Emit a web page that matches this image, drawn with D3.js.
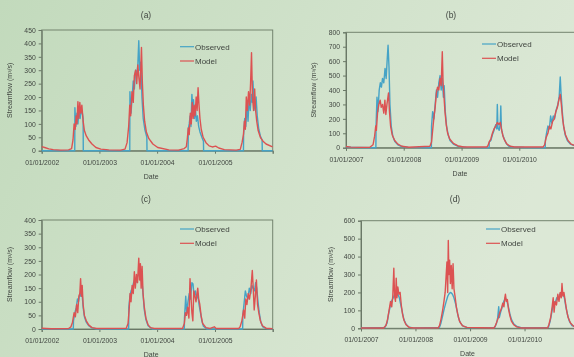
<!DOCTYPE html>
<html>
<head>
<meta charset="utf-8">
<script src="https://cdn.jsdelivr.net/npm/d3@7"></script>
<style>
  html, body { margin: 0; padding: 0; }
  body { width: 574px; height: 357px; overflow: hidden; }
  svg { display: block; filter: blur(0.35px); }
  text { font-family: "Liberation Sans", Arial, sans-serif; fill: #3f443f; }
</style>
</head>
<body>
<svg id="chart" width="574" height="357"></svg>
<script>
// ---- data ----
const seriesNames = ['Observed', 'Model'];
const yTicksA = [0, 50, 100, 150, 200, 250, 300, 350, 400, 450];
const yTicksB = [0, 100, 200, 300, 400, 500, 600, 700, 800];
const yTicksC = [0, 50, 100, 150, 200, 250, 300, 350, 400];
const yTicksD = [0, 100, 200, 300, 400, 500, 600];
const yearsAC = [2002, 2003, 2004, 2005, 2006];
const yearsBD = [2007, 2008, 2009, 2010, 2011];

// (a)
const obsA = [
  ['2002-01-01', 0], ['2002-07-29', 0], ['2002-07-30', 160], ['2002-08-05', 90], ['2002-08-12', 140],
  ['2002-08-18', 100], ['2002-08-25', 150], ['2002-09-01', 120], ['2002-09-08', 150], ['2002-09-15', 140],
  ['2002-09-20', 120], ['2002-09-21', 0],
  ['2003-07-12', 0], ['2003-07-13', 220], ['2003-07-20', 140], ['2003-07-27', 200], ['2003-08-03', 260],
  ['2003-08-10', 230], ['2003-08-18', 300], ['2003-08-25', 280], ['2003-09-01', 320], ['2003-09-07', 410],
  ['2003-09-13', 300], ['2003-09-20', 330], ['2003-09-27', 200], ['2003-10-05', 120], ['2003-10-15', 80],
  ['2003-10-28', 50], ['2003-10-29', 0],
  ['2004-07-15', 0], ['2004-07-16', 80], ['2004-07-22', 100], ['2004-07-28', 130], ['2004-08-02', 90],
  ['2004-08-08', 210], ['2004-08-13', 160], ['2004-08-18', 190], ['2004-08-24', 120], ['2004-08-30', 160],
  ['2004-09-05', 110], ['2004-09-12', 130], ['2004-09-20', 90], ['2004-09-28', 70], ['2004-10-10', 50],
  ['2004-10-20', 35], ['2004-10-21', 0],
  ['2005-06-30', 0], ['2005-07-01', 60], ['2005-07-08', 120], ['2005-07-15', 90], ['2005-07-22', 170],
  ['2005-07-29', 110], ['2005-08-05', 200], ['2005-08-12', 150], ['2005-08-19', 210], ['2005-08-25', 180],
  ['2005-08-29', 260], ['2005-09-05', 170], ['2005-09-12', 150], ['2005-09-18', 200], ['2005-09-25', 130],
  ['2005-10-05', 80], ['2005-10-15', 55], ['2005-10-26', 40], ['2005-10-27', 0], ['2005-12-31', 0]
];
const modA = [
  ['2002-01-01', 15], ['2002-01-20', 12], ['2002-02-15', 7], ['2002-03-15', 4], ['2002-05-01', 2],
  ['2002-06-20', 3], ['2002-07-09', 8], ['2002-07-18', 40], ['2002-07-25', 100], ['2002-08-01', 80],
  ['2002-08-07', 130], ['2002-08-12', 100], ['2002-08-18', 183], ['2002-08-24', 120], ['2002-08-30', 180],
  ['2002-09-05', 140], ['2002-09-12', 170], ['2002-09-20', 110], ['2002-09-28', 75], ['2002-10-10', 55],
  ['2002-10-25', 40], ['2002-11-15', 25], ['2002-12-10', 12], ['2003-01-10', 6], ['2003-03-01', 3],
  ['2003-05-15', 2], ['2003-06-12', 6], ['2003-06-25', 30], ['2003-07-05', 90], ['2003-07-12', 170],
  ['2003-07-18', 130], ['2003-07-26', 220], ['2003-08-03', 180], ['2003-08-10', 280], ['2003-08-18', 300],
  ['2003-08-25', 250], ['2003-09-01', 320], ['2003-09-08', 270], ['2003-09-15', 230], ['2003-09-24', 385],
  ['2003-09-30', 250], ['2003-10-06', 170], ['2003-10-14', 110], ['2003-10-25', 70], ['2003-11-10', 45],
  ['2003-12-05', 25], ['2004-01-05', 12], ['2004-03-15', 3], ['2004-05-15', 2], ['2004-06-20', 8],
  ['2004-07-04', 15], ['2004-07-10', 45], ['2004-07-16', 85], ['2004-07-22', 60], ['2004-07-29', 140],
  ['2004-08-04', 100], ['2004-08-10', 180], ['2004-08-16', 120], ['2004-08-22', 170], ['2004-08-28', 130],
  ['2004-09-04', 200], ['2004-09-10', 150], ['2004-09-16', 235], ['2004-09-22', 170], ['2004-09-28', 120],
  ['2004-10-06', 80], ['2004-10-18', 50], ['2004-11-05', 30], ['2004-11-25', 18], ['2004-12-15', 14],
  ['2005-01-05', 17], ['2005-01-25', 10], ['2005-03-01', 4], ['2005-05-15', 2], ['2005-06-10', 5],
  ['2005-06-21', 30], ['2005-06-30', 60], ['2005-07-06', 110], ['2005-07-12', 80], ['2005-07-18', 200],
  ['2005-07-25', 150], ['2005-08-01', 220], ['2005-08-08', 170], ['2005-08-14', 250], ['2005-08-20', 365],
  ['2005-08-26', 200], ['2005-09-02', 150], ['2005-09-09', 230], ['2005-09-15', 150], ['2005-09-22', 110],
  ['2005-10-01', 75], ['2005-10-15', 50], ['2005-11-01', 35], ['2005-11-20', 25], ['2005-12-31', 14]
];

// (b)
const obsB = [
  ['2007-01-01', 6], ['2007-02-01', 3], ['2007-04-01', 1], ['2007-07-09', 0], ['2007-07-10', 150],
  ['2007-07-16', 350], ['2007-07-22', 250], ['2007-07-30', 400], ['2007-08-06', 450], ['2007-08-13', 420],
  ['2007-08-20', 480], ['2007-08-28', 450], ['2007-09-05', 550], ['2007-09-12', 480], ['2007-09-18', 600],
  ['2007-09-24', 710], ['2007-09-30', 560], ['2007-10-06', 300], ['2007-10-14', 150], ['2007-10-24', 80],
  ['2007-11-05', 45], ['2007-11-25', 20], ['2007-12-20', 8], ['2008-02-01', 2], ['2008-06-24', 0],
  ['2008-06-25', 150], ['2008-07-02', 250], ['2008-07-10', 200], ['2008-07-18', 300], ['2008-07-26', 400],
  ['2008-08-02', 350], ['2008-08-10', 450], ['2008-08-18', 500], ['2008-08-25', 400], ['2008-09-01', 480],
  ['2008-09-08', 350], ['2008-09-13', 430], ['2008-09-20', 250], ['2008-09-28', 150], ['2008-10-08', 90],
  ['2008-10-20', 50], ['2008-11-10', 25], ['2008-12-10', 10], ['2009-02-01', 2], ['2009-06-24', 0],
  ['2009-06-25', 40], ['2009-07-05', 50], ['2009-07-15', 90], ['2009-07-25', 120], ['2009-08-05', 160],
  ['2009-08-12', 130], ['2009-08-15', 300], ['2009-08-19', 140], ['2009-08-27', 120], ['2009-09-03', 170],
  ['2009-09-06', 290], ['2009-09-10', 130], ['2009-09-18', 90], ['2009-09-28', 60], ['2009-10-10', 30],
  ['2009-10-25', 12], ['2009-11-15', 5], ['2010-02-01', 1], ['2010-06-14', 0], ['2010-06-15', 50],
  ['2010-06-22', 100], ['2010-07-01', 150], ['2010-07-10', 130], ['2010-07-18', 220], ['2010-07-26', 170],
  ['2010-08-04', 220], ['2010-08-12', 200], ['2010-08-22', 260], ['2010-09-02', 300], ['2010-09-10', 350],
  ['2010-09-17', 490], ['2010-09-22', 380], ['2010-09-30', 250], ['2010-10-08', 150], ['2010-10-18', 90],
  ['2010-11-01', 50], ['2010-11-20', 25], ['2010-12-31', 8]
];
const modB = [
  ['2007-01-01', 8], ['2007-02-01', 4], ['2007-04-01', 2], ['2007-06-01', 3], ['2007-06-21', 20],
  ['2007-07-01', 80], ['2007-07-08', 150], ['2007-07-12', 120], ['2007-07-20', 250], ['2007-07-28', 300],
  ['2007-08-05', 330], ['2007-08-12', 280], ['2007-08-20', 300], ['2007-08-28', 240], ['2007-09-04', 330],
  ['2007-09-10', 230], ['2007-09-17', 300], ['2007-09-27', 380], ['2007-10-03', 250], ['2007-10-10', 150],
  ['2007-10-20', 90], ['2007-11-05', 50], ['2007-11-25', 25], ['2007-12-20', 10], ['2008-02-01', 3],
  ['2008-06-15', 10], ['2008-06-25', 40], ['2008-07-02', 120], ['2008-07-10', 210], ['2008-07-18', 280],
  ['2008-07-26', 380], ['2008-08-02', 420], ['2008-08-10', 400], ['2008-08-18', 480], ['2008-08-25', 430],
  ['2008-09-01', 665], ['2008-09-06', 450], ['2008-09-12', 350], ['2008-09-18', 250], ['2008-09-26', 160],
  ['2008-10-05', 100], ['2008-10-18', 60], ['2008-11-10', 30], ['2008-12-10', 12], ['2009-01-15', 5],
  ['2009-06-10', 5], ['2009-06-17', 15], ['2009-06-25', 40], ['2009-07-05', 60], ['2009-07-15', 100],
  ['2009-07-25', 130], ['2009-08-05', 150], ['2009-08-15', 175], ['2009-08-25', 160], ['2009-09-03', 175],
  ['2009-09-12', 120], ['2009-09-20', 80], ['2009-10-01', 50], ['2009-10-15', 25], ['2009-11-05', 10],
  ['2009-12-01', 5], ['2010-06-01', 5], ['2010-06-10', 20], ['2010-06-20', 70], ['2010-07-01', 100],
  ['2010-07-10', 150], ['2010-07-20', 130], ['2010-07-30', 180], ['2010-08-10', 200], ['2010-08-20', 250],
  ['2010-08-30', 280], ['2010-09-08', 330], ['2010-09-17', 370], ['2010-09-24', 300], ['2010-10-02', 200],
  ['2010-10-10', 140], ['2010-10-20', 90], ['2010-11-05', 50], ['2010-11-25', 25], ['2010-12-31', 10]
];

// (c)
const obsC = [
  ['2002-01-01', 0], ['2002-07-20', 0], ['2002-07-21', 30], ['2002-07-30', 60], ['2002-08-08', 80],
  ['2002-08-15', 110], ['2002-08-22', 100], ['2002-08-30', 130], ['2002-09-06', 120], ['2002-09-12', 140],
  ['2002-09-20', 80], ['2002-09-28', 45], ['2002-10-10', 25], ['2002-10-25', 12], ['2002-11-15', 4],
  ['2002-12-15', 0], ['2003-07-05', 0], ['2003-07-06', 80], ['2003-07-13', 120], ['2003-07-20', 140],
  ['2003-07-28', 150], ['2003-08-05', 170], ['2003-08-12', 180], ['2003-08-20', 170], ['2003-08-28', 190],
  ['2003-09-05', 200], ['2003-09-12', 210], ['2003-09-20', 180], ['2003-09-28', 170], ['2003-10-05', 120],
  ['2003-10-12', 70], ['2003-10-22', 35], ['2003-11-05', 12], ['2003-12-01', 0], ['2004-06-21', 0],
  ['2004-06-22', 40], ['2004-06-30', 120], ['2004-07-06', 60], ['2004-07-14', 100], ['2004-07-22', 130],
  ['2004-07-30', 110], ['2004-08-08', 170], ['2004-08-15', 165], ['2004-08-22', 120], ['2004-08-30', 140],
  ['2004-09-06', 110], ['2004-09-14', 130], ['2004-09-22', 90], ['2004-10-01', 60], ['2004-10-10', 30],
  ['2004-10-20', 10], ['2004-11-10', 0], ['2005-06-25', 0], ['2005-06-26', 50], ['2005-07-05', 100],
  ['2005-07-12', 140], ['2005-07-20', 120], ['2005-07-28', 110], ['2005-08-06', 150], ['2005-08-15', 130],
  ['2005-08-22', 160], ['2005-08-30', 150], ['2005-09-08', 140], ['2005-09-15', 170], ['2005-09-22', 150],
  ['2005-09-30', 100], ['2005-10-08', 60], ['2005-10-18', 25], ['2005-10-30', 8], ['2005-11-20', 2],
  ['2005-12-31', 0]
];
const modC = [
  ['2002-01-01', 3], ['2002-03-01', 1], ['2002-06-20', 2], ['2002-07-05', 8], ['2002-07-15', 25],
  ['2002-07-25', 60], ['2002-08-02', 45], ['2002-08-10', 90], ['2002-08-17', 60], ['2002-08-24', 120],
  ['2002-08-30', 130], ['2002-09-04', 185], ['2002-09-09', 120], ['2002-09-14', 160], ['2002-09-20', 90],
  ['2002-09-28', 50], ['2002-10-10', 30], ['2002-10-25', 15], ['2002-11-15', 5], ['2002-12-15', 2],
  ['2003-06-20', 3], ['2003-07-01', 20], ['2003-07-08', 70], ['2003-07-14', 130], ['2003-07-20', 100],
  ['2003-07-27', 160], ['2003-08-03', 130], ['2003-08-10', 210], ['2003-08-16', 150], ['2003-08-23', 200],
  ['2003-08-30', 170], ['2003-09-07', 260], ['2003-09-12', 180], ['2003-09-17', 240], ['2003-09-22', 150],
  ['2003-09-28', 230], ['2003-10-04', 130], ['2003-10-12', 80], ['2003-10-22', 40], ['2003-11-05', 15],
  ['2003-11-20', 5], ['2003-12-15', 2], ['2004-06-10', 2], ['2004-06-21', 20], ['2004-06-28', 60],
  ['2004-07-05', 50], ['2004-07-12', 80], ['2004-07-20', 40], ['2004-07-27', 185], ['2004-08-02', 120],
  ['2004-08-08', 60], ['2004-08-14', 30], ['2004-08-20', 140], ['2004-08-27', 120], ['2004-09-03', 100],
  ['2004-09-09', 130], ['2004-09-14', 150], ['2004-09-20', 110], ['2004-09-27', 90], ['2004-10-05', 50],
  ['2004-10-15', 20], ['2004-11-05', 5], ['2004-12-01', 2], ['2004-12-28', 8], ['2005-01-08', 2],
  ['2005-06-01', 2], ['2005-06-10', 10], ['2005-06-20', 30], ['2005-07-01', 70], ['2005-07-08', 40],
  ['2005-07-15', 110], ['2005-07-22', 90], ['2005-07-30', 130], ['2005-08-07', 110], ['2005-08-15', 140],
  ['2005-08-25', 215], ['2005-08-31', 150], ['2005-09-06', 70], ['2005-09-13', 120], ['2005-09-20', 180],
  ['2005-09-27', 90], ['2005-10-05', 60], ['2005-10-15', 30], ['2005-10-28', 12], ['2005-11-20', 3],
  ['2005-12-31', 1]
];

// (d)
const obsD = [
  ['2007-01-01', 2], ['2007-06-10', 5], ['2007-06-25', 30], ['2007-07-05', 80], ['2007-07-15', 120],
  ['2007-07-25', 150], ['2007-08-05', 170], ['2007-08-15', 190], ['2007-08-25', 180], ['2007-09-05', 190],
  ['2007-09-15', 170], ['2007-09-25', 130], ['2007-10-05', 90], ['2007-10-15', 50], ['2007-10-28', 25],
  ['2007-11-15', 8], ['2007-12-15', 2], ['2008-06-10', 5], ['2008-06-20', 30], ['2008-07-01', 70],
  ['2008-07-12', 110], ['2008-07-25', 150], ['2008-08-05', 180], ['2008-08-15', 195], ['2008-08-25', 200],
  ['2008-09-05', 190], ['2008-09-15', 170], ['2008-09-25', 140], ['2008-10-05', 100], ['2008-10-15', 60],
  ['2008-10-28', 30], ['2008-11-15', 12], ['2008-12-15', 4], ['2009-06-15', 5], ['2009-06-28', 30],
  ['2009-07-05', 60], ['2009-07-12', 120], ['2009-07-16', 60], ['2009-07-25', 90], ['2009-08-05', 120],
  ['2009-08-15', 150], ['2009-08-25', 170], ['2009-09-05', 150], ['2009-09-15', 120], ['2009-09-25', 80],
  ['2009-10-05', 50], ['2009-10-20', 25], ['2009-11-10', 10], ['2009-12-10', 3], ['2010-06-10', 5],
  ['2010-06-22', 40], ['2010-07-05', 100], ['2010-07-15', 150], ['2010-07-25', 140], ['2010-08-05', 170],
  ['2010-08-15', 160], ['2010-08-25', 190], ['2010-09-05', 200], ['2010-09-15', 190], ['2010-09-25', 170],
  ['2010-10-05', 120], ['2010-10-15', 80], ['2010-10-28', 40], ['2010-11-15', 15], ['2010-12-31', 4]
];
const modD = [
  ['2007-01-01', 2], ['2007-06-01', 2], ['2007-06-17', 15], ['2007-06-28', 50], ['2007-07-08', 100],
  ['2007-07-18', 150], ['2007-07-26', 120], ['2007-08-02', 180], ['2007-08-09', 335], ['2007-08-14', 180],
  ['2007-08-20', 150], ['2007-08-25', 280], ['2007-08-30', 170], ['2007-09-05', 230], ['2007-09-12', 190],
  ['2007-09-20', 200], ['2007-09-28', 130], ['2007-10-06', 80], ['2007-10-16', 45], ['2007-10-30', 20],
  ['2007-11-20', 5], ['2007-12-20', 2], ['2008-06-01', 3], ['2008-06-10', 15], ['2008-06-20', 50],
  ['2008-07-01', 100], ['2008-07-10', 150], ['2008-07-18', 200], ['2008-07-25', 300], ['2008-07-30', 370],
  ['2008-08-04', 200], ['2008-08-08', 490], ['2008-08-12', 300], ['2008-08-17', 380], ['2008-08-22', 250],
  ['2008-08-28', 350], ['2008-09-03', 220], ['2008-09-09', 360], ['2008-09-15', 220], ['2008-09-22', 180],
  ['2008-10-01', 120], ['2008-10-10', 80], ['2008-10-22', 40], ['2008-11-10', 15], ['2008-12-10', 5],
  ['2009-06-10', 2], ['2009-06-20', 15], ['2009-07-01', 40], ['2009-07-10', 60], ['2009-07-20', 90],
  ['2009-07-30', 110], ['2009-08-08', 140], ['2009-08-16', 120], ['2009-08-22', 170], ['2009-08-26', 190],
  ['2009-09-01', 150], ['2009-09-08', 160], ['2009-09-15', 110], ['2009-09-25', 70], ['2009-10-05', 40],
  ['2009-10-20', 20], ['2009-11-10', 8], ['2009-12-10', 2], ['2010-06-05', 3], ['2010-06-13', 20],
  ['2010-06-25', 60], ['2010-07-05', 120], ['2010-07-12', 170], ['2010-07-18', 90], ['2010-07-25', 150],
  ['2010-08-03', 130], ['2010-08-12', 190], ['2010-08-20', 150], ['2010-08-28', 200], ['2010-09-04', 170],
  ['2010-09-09', 250], ['2010-09-15', 180], ['2010-09-22', 200], ['2010-10-01', 150], ['2010-10-10', 100],
  ['2010-10-20', 60], ['2010-11-05', 30], ['2010-11-25', 12], ['2010-12-31', 3]
];

// ---- layout ----
const colors = { Observed: '#45a3c6', Model: '#dc5252' };
const parse = d3.timeParse('%Y-%m-%d');
const fmt = d3.timeFormat('%d/%m/%Y');

const panels = [
  { name: '(a)', obs: obsA, mod: modA, yTicks: yTicksA, years: yearsAC,
    l: 41.7, r: 272.7, t: 30, b: 150.7, cx: 146, titleY: 18, yTitleX: 12, legX: 180, legY: 46.7 },
  { name: '(b)', obs: obsB, mod: modB, yTicks: yTicksB, years: yearsBD,
    l: 346, r: 577, t: 32.3, b: 147.7, cx: 451, titleY: 18, yTitleX: 316, legX: 482, legY: 44 },
  { name: '(c)', obs: obsC, mod: modC, yTicks: yTicksC, years: yearsAC,
    l: 41.7, r: 272.7, t: 220, b: 329, cx: 146, titleY: 202, yTitleX: 12, legX: 180, legY: 229 },
  { name: '(d)', obs: obsD, mod: modD, yTicks: yTicksD, years: yearsBD,
    l: 361, r: 579, t: 220.7, b: 328.3, cx: 455, titleY: 202, yTitleX: 333, legX: 486, legY: 229 }
];

const svg = d3.select('#chart');

// background
const defs = svg.append('defs');
const grad = defs.append('linearGradient').attr('id', 'bg')
  .attr('x1', '0%').attr('y1', '0%').attr('x2', '100%').attr('y2', '30%');
grad.append('stop').attr('offset', '0%').attr('stop-color', '#c2dabc');
grad.append('stop').attr('offset', '100%').attr('stop-color', '#dce8d6');
svg.append('rect').attr('width', 574).attr('height', 357).attr('fill', 'url(#bg)');

panels.forEach(p => {
  const g = svg.append('g');
  const x = d3.scaleTime()
    .domain([new Date(p.years[0], 0, 1), new Date(p.years[p.years.length - 1], 0, 1)])
    .range([p.l, p.r]);
  const y = d3.scaleLinear().domain([0, d3.max(p.yTicks)]).range([p.b, p.t]);

  // plot border
  g.append('rect')
    .attr('x', p.l).attr('y', p.t)
    .attr('width', p.r - p.l).attr('height', p.b - p.t)
    .attr('fill', 'none').attr('stroke', '#74846f').attr('stroke-width', 1);

  const yAxis = g.append('g')
    .attr('transform', `translate(${p.l},0)`)
    .call(d3.axisLeft(y).tickValues(p.yTicks).tickSize(3).tickPadding(3));
  yAxis.selectAll('text').style('font-size', '6.8px');

  const xTicks = p.years.map(yr => new Date(yr, 0, 1));
  const xAxis = g.append('g')
    .attr('transform', `translate(0,${p.b})`)
    .call(d3.axisBottom(x).tickValues(xTicks).tickSize(3).tickPadding(6)
      .tickFormat((d, i) => i < xTicks.length - 1 ? fmt(d) : ''));
  xAxis.selectAll('text').style('font-size', '6.8px');

  [yAxis, xAxis].forEach(a => {
    a.select('.domain').attr('stroke', '#6a7867');
    a.selectAll('.tick line').attr('stroke', '#6a7867');
    a.selectAll('text').attr('fill', '#3f443f').style('font-family', '"Liberation Sans", Arial, sans-serif');
  });

  // titles
  g.append('text').attr('x', p.cx).attr('y', p.titleY)
    .attr('text-anchor', 'middle').style('font-size', '8.5px').text(p.name);
  g.append('text').attr('x', (p.l + Math.min(p.r, 574)) / 2 + (p.l < 100 ? -6 : 0)).attr('y', p.b + 28)
    .attr('text-anchor', 'middle').style('font-size', '7px').text('Date');
  g.append('text')
    .attr('transform', `translate(${p.yTitleX},${(p.t + p.b) / 2}) rotate(-90)`)
    .attr('text-anchor', 'middle').style('font-size', '7px')
    .text('Streamflow (m³/s)');

  // series
  const line = d3.line().x(d => x(parse(d[0]))).y(d => y(d[1]));
  const data = { Observed: p.obs, Model: p.mod };
  seriesNames.forEach(s => {
    g.append('path').datum(data[s])
      .attr('d', line)
      .attr('fill', 'none')
      .attr('stroke', colors[s])
      .attr('stroke-width', 1.4)
      .attr('stroke-linejoin', 'round');
  });

  // legend
  seriesNames.forEach((s, i) => {
    const ly = p.legY + i * 14.3;
    g.append('line').attr('x1', p.legX).attr('x2', p.legX + 14)
      .attr('y1', ly).attr('y2', ly)
      .attr('stroke', colors[s]).attr('stroke-width', 1.2);
    g.append('text').attr('x', p.legX + 15).attr('y', ly + 2.8)
      .style('font-size', '8px').text(s);
  });
});
</script>
</body>
</html>
